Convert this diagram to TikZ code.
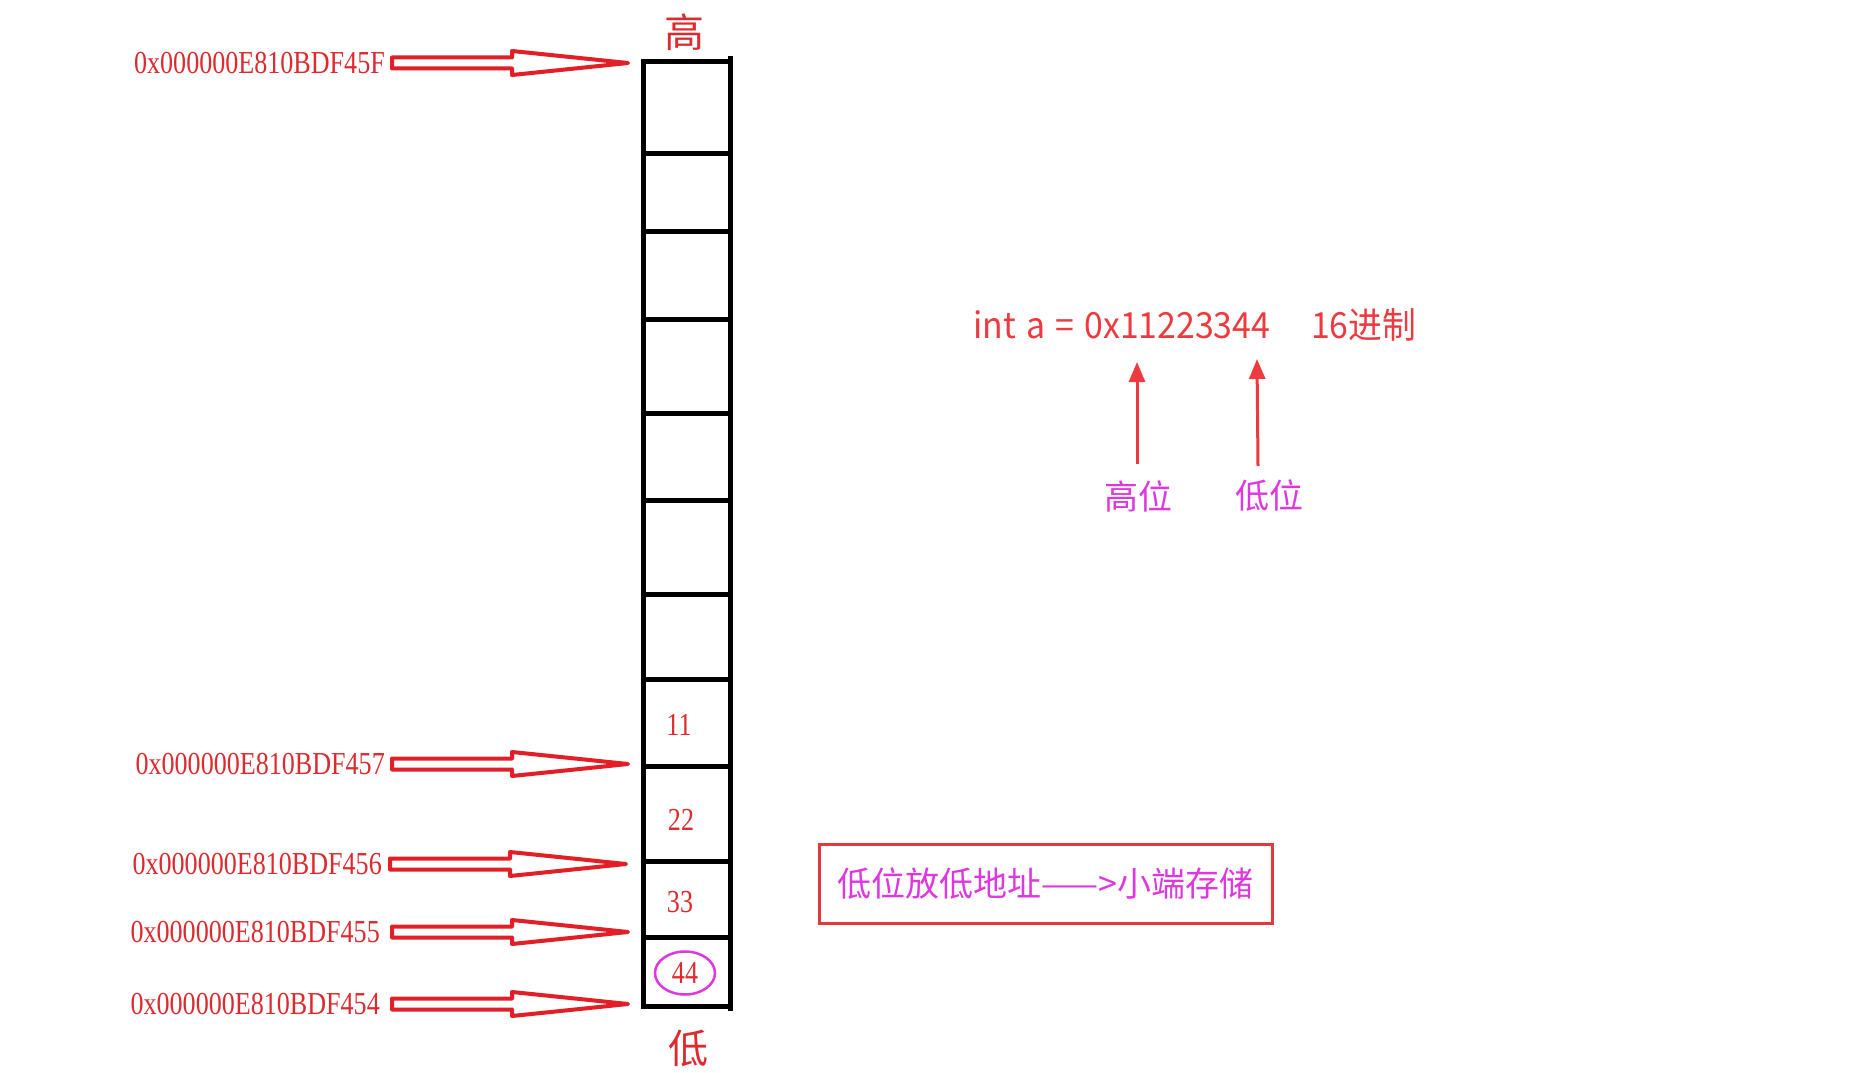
\documentclass[tikz,border=0pt]{standalone}
\usepackage{fontspec}
\usepackage{xcolor}
\usetikzlibrary{calc,arrows.meta,positioning}
\setmainfont{Liberation Serif}
\newfontfamily\cjk{Noto Sans CJK SC}
\newfontfamily\intfont{Noto Sans CJK SC}[FakeStretch=0.94, WordSpace=1.35]
\newfontfamily\addrfont{Liberation Serif}[FakeStretch=0.815]
\definecolor{addrred}{HTML}{DC2A2E}
\definecolor{arrowred}{HTML}{E21F26}
\definecolor{intred}{HTML}{EC3A3F}
\definecolor{bitmagenta}{HTML}{DF37E0}
\definecolor{boxred}{HTML}{E2383C}
\newcommand{\addrsize}{\fontsize{32}{36}\selectfont}

\begin{document}
\begin{tikzpicture}[x=1pt, y=-1pt,
    addr/.style={addrred, font=\addrfont\addrsize, inner sep=0pt, anchor=east},
    cellnum/.style={addrred, font=\addrfont\addrsize, inner sep=0pt},
    cellline/.style={black, line width=5pt, line cap=rect},
    hollowarrow/.style={arrowred, line width=4pt, line join=round},
    endlabel/.style={addrred, font=\cjk\fontsize{40}{44}\selectfont, inner sep=0pt},
    intlabel/.style={intred, font=\intfont\fontsize{36}{40}\selectfont, inner sep=0pt, anchor=base west},
    poslabel/.style={bitmagenta, font=\cjk\fontsize{34}{38}\selectfont, inner sep=0pt},
    bitarrow/.style={intred, line width=3pt, -{Triangle[length=20pt,width=16pt]}},
    notebox/.style={draw=boxred, line width=3pt, minimum width=453pt, minimum height=79pt,
        inner sep=0pt, text=bitmagenta, font=\cjk\fontsize{34}{38}\selectfont}]
    % White page
    \fill[white] (0,0) rectangle (1874,1073);
    \useasboundingbox (0,0) rectangle (1874,1073);

    % Memory column
    \foreach \y in {62,153,231,319,413,500,594,679,766,861,937,1006} {
        \draw[cellline] (643,\y) -- (730,\y);
    }
    \draw[cellline] (643,62) -- (643,1006);
    \draw[cellline] (730,59) -- (730,1008);

    % High / low ends
    \node[endlabel] (high) at (684,32) {高};
    \node[endlabel] (low) at (688,1048) {低};

    % Stored bytes
    \node[cellnum] (n11) at (679,725) {11};
    \node[cellnum] (n22) at (681,820) {22};
    \node[cellnum] (n33) at (680,902) {33};
    \node[cellnum] (n44) at (685,973) {44};
    \draw[bitmagenta, line width=2.5pt] (n44) ellipse [x radius=30, y radius=21.5];

    % Addresses with hollow arrows
    \foreach \addr/\ypos/\xr/\gap in {45F/63/385/7, 457/764/385/7, 456/864/382/8, 455/932/380/12, 454/1004/380/12} {
        \node[addr] (a\addr) at (\xr,\ypos) {0x000000E810BDF\addr};
        \draw[hollowarrow] ($(a\addr.east)+(\gap,0)$) ++(0,-5.5) -- ++(120,0) -- ++(0,-6.5)
            -- ++(116,12) -- ++(-116,12) -- ++(0,-6.5) -- ++(-120,0) -- cycle;
    }

    % Value in hex
    \node[intlabel] (decl) at (973,338) {int a = 0x11223344};
    \node[intlabel] (hex) at (1311,338) {16进制};

    % High and low byte markers
    \node[poslabel] (hibit) at (1138,496) {高位};
    \node[poslabel] (lobit) at (1269,496) {低位};
    \coordinate (hifoot) at (1137,464);
    \coordinate (hitip) at (1137,362);
    \coordinate (lofoot) at (1258,466);
    \coordinate (lotip) at (1257,359);
    \draw[bitarrow] (hifoot) -- (hitip);
    \draw[bitarrow] (lofoot) -- (lotip);

    % Rule note
    \node[notebox] (rule) at (1045.5,883.5) {低位放低地址——>小端存储};

\end{tikzpicture}
\end{document}
